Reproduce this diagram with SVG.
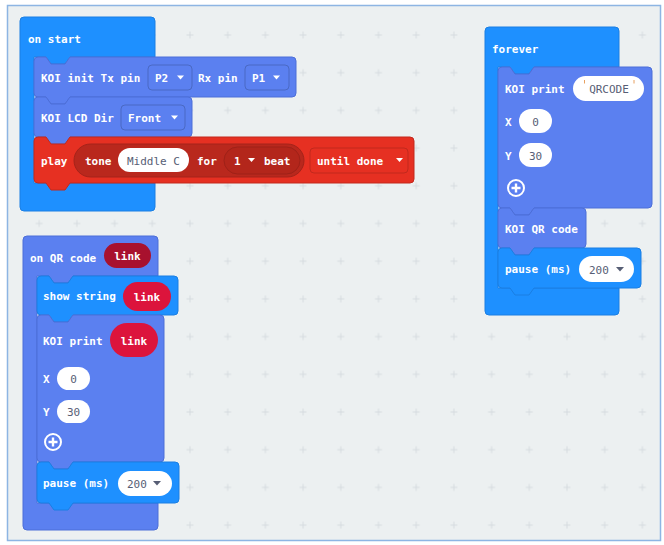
<svg xmlns="http://www.w3.org/2000/svg" width="664" height="545" viewBox="0 0 664 545">
<style>
.t{font-family:"DejaVu Sans Mono","Liberation Mono",monospace;font-size:11px;font-weight:bold;fill:#fff}
.g{font-family:"DejaVu Sans Mono","Liberation Mono",monospace;font-size:11px;fill:#575e75}
.c{text-anchor:middle}
.koi{fill:#5b80f0;stroke:#4c6ed8;stroke-width:1}
.blue{fill:#1e90ff;stroke:#1a7fe3;stroke-width:1}
.red{fill:#e63022;stroke:#c2291d;stroke-width:1}
.pill{fill:#fff}
.tri{fill:#fff}
.dd{stroke:rgba(0,0,0,0.18);stroke-width:1}
</style>
<defs>
<pattern id="grid" x="-17.35" y="16.15" width="37.7" height="37.7" patternUnits="userSpaceOnUse">
<path d="M15.35,18.85 H22.35 M18.85,15.35 V22.35" stroke="#d6dce0" stroke-width="1"/>
</pattern>
<g id="plus">
<circle cx="0" cy="0" r="8" fill="none" stroke="#fff" stroke-width="2"/>
<path d="M-4.5,0 H4.5 M0,-4.5 V4.5" stroke="#fff" stroke-width="2.4"/>
</g>
</defs>
<rect x="0" y="0" width="664" height="545" fill="#fff"/>
<rect x="7.5" y="5.5" width="653" height="535" fill="#ecf0f1" stroke="#8db5e3" stroke-width="1.5"/>
<rect x="8.5" y="6.5" width="651" height="533" fill="url(#grid)"/>
<g id="connectors"></g>

<g id="on-start">
<path class="blue" d="M20,21 a4,4 0 0 1 4,-4 H151 a4,4 0 0 1 4,4 V57 H70 l-5,7 H51 l-5,-7 H34 V183 H155 V207 a4,4 0 0 1 -4,4 H24 a4,4 0 0 1 -4,-4 Z"/>
<text class="t" x="28" y="42.5">on start</text>
</g>
<g id="koi-init">
<path class="koi" d="M34,61 a4,4 0 0 1 4,-4 H46 l5,7 H65 l5,-7 H292 a4,4 0 0 1 4,4 V93 a4,4 0 0 1 -4,4 H70 l-5,7 H51 l-5,-7 H38 a4,4 0 0 1 -4,-4 Z"/>
<text class="t" x="41" y="82">KOI init Tx pin</text>
<rect class="koi dd" x="148" y="65" width="44" height="25" rx="4"/>
<text class="t" x="155" y="82">P2</text>
<polygon class="tri" points="177,75.5 184,75.5 180.5,79.5"/>
<text class="t" x="198" y="82">Rx pin</text>
<rect class="koi dd" x="245" y="65" width="44" height="25" rx="4"/>
<text class="t" x="252" y="82">P1</text>
<polygon class="tri" points="273,75.5 280,75.5 276.5,79.5"/>
</g>
<g id="koi-lcd">
<path class="koi" d="M34,101 a4,4 0 0 1 4,-4 H46 l5,7 H65 l5,-7 H188 a4,4 0 0 1 4,4 V133 a4,4 0 0 1 -4,4 H70 l-5,7 H51 l-5,-7 H38 a4,4 0 0 1 -4,-4 Z"/>
<text class="t" x="41" y="122">KOI LCD Dir</text>
<rect class="koi dd" x="121" y="105" width="64" height="25" rx="4"/>
<text class="t" x="128" y="122">Front</text>
<polygon class="tri" points="171,115.5 178,115.5 174.5,119.5"/>
</g>
<g id="play">
<path class="red" d="M34,141 a4,4 0 0 1 4,-4 H46 l5,7 H65 l5,-7 H410 a4,4 0 0 1 4,4 V179 a4,4 0 0 1 -4,4 H70 l-5,7 H51 l-5,-7 H38 a4,4 0 0 1 -4,-4 Z"/>
<text class="t" x="41" y="164.5">play</text>
<rect x="74" y="144" width="230" height="33" rx="16.5" fill="#b9281d" stroke="#a5231a"/>
<text class="t" x="85" y="164.5">tone</text>
<rect class="pill" x="118" y="148" width="71" height="24" rx="12"/>
<text class="g c" x="153.5" y="164.5">Middle C</text>
<text class="t" x="197" y="164.5">for</text>
<rect x="224" y="147" width="76" height="27" rx="13.5" fill="#b3261b" stroke="#9f2118"/>
<text class="t" x="234" y="164.5">1</text>
<polygon class="tri" points="248,158 255,158 251.5,162"/>
<text class="t" x="264" y="164.5">beat</text>
<rect class="red" x="310" y="148" width="98" height="25" rx="4"/>
<text class="t" x="317" y="164.5">until done</text>
<polygon class="tri" points="396,158 403,158 399.5,162"/>
</g>

<g id="forever">
<path class="blue" d="M485,31 a4,4 0 0 1 4,-4 H615 a4,4 0 0 1 4,4 V67 H534 l-5,7 H515 l-5,-7 H498 V288 H619 V311 a4,4 0 0 1 -4,4 H489 a4,4 0 0 1 -4,-4 Z"/>
<text class="t" x="492" y="52.5">forever</text>
</g>
<g id="koi-print-1">
<path class="koi" d="M498,71 a4,4 0 0 1 4,-4 H510 l5,7 H529 l5,-7 H648 a4,4 0 0 1 4,4 V204 a4,4 0 0 1 -4,4 H534 l-5,7 H515 l-5,-7 H502 a4,4 0 0 1 -4,-4 Z"/>
<text class="t" x="505" y="92.5">KOI print</text>
<rect class="pill" x="573" y="76" width="71" height="25" rx="12.5"/>
<path d="M584.5,80 V83.5 M634,80 V83.5" stroke="#e8a060" stroke-width="1"/>
<text class="g c" x="609" y="93">QRCODE</text>
<text class="t" x="505" y="125.5">X</text>
<rect class="pill" x="519" y="109" width="33" height="24" rx="12"/>
<text class="g c" x="535.5" y="125.5">0</text>
<text class="t" x="505" y="159.5">Y</text>
<rect class="pill" x="519" y="143" width="33" height="24" rx="12"/>
<text class="g c" x="535.5" y="159.5">30</text>
<use href="#plus" x="516" y="188"/>
</g>
<g id="koi-qr">
<path class="koi" d="M498,212 a4,4 0 0 1 4,-4 H510 l5,7 H529 l5,-7 H582 a4,4 0 0 1 4,4 V244 a4,4 0 0 1 -4,4 H534 l-5,7 H515 l-5,-7 H502 a4,4 0 0 1 -4,-4 Z"/>
<text class="t" x="505" y="232.5">KOI QR code</text>
</g>
<g id="pause-1">
<path class="blue" d="M498,252 a4,4 0 0 1 4,-4 H510 l5,7 H529 l5,-7 H637 a4,4 0 0 1 4,4 V284 a4,4 0 0 1 -4,4 H534 l-5,7 H515 l-5,-7 H502 a4,4 0 0 1 -4,-4 Z"/>
<text class="t" x="505" y="272.5">pause (ms)</text>
<rect class="pill" x="579" y="256" width="55" height="26" rx="13"/>
<text class="g" x="589" y="273.5">200</text>
<polygon points="616,267 624,267 620,271.5" fill="#575e75"/>
</g>

<g id="on-qr">
<path class="koi" d="M23,240 a4,4 0 0 1 4,-4 H154 a4,4 0 0 1 4,4 V276 H73 l-5,7 H54 l-5,-7 H37 V503 H158 V526 a4,4 0 0 1 -4,4 H27 a4,4 0 0 1 -4,-4 Z"/>
<text class="t" x="30" y="261.5">on QR code</text>
<rect x="104" y="243" width="47" height="25" rx="12.5" fill="#a8112e"/>
<text class="t c" x="127.5" y="260">link</text>
</g>
<g id="show-string">
<path class="blue" d="M37,280 a4,4 0 0 1 4,-4 H49 l5,7 H68 l5,-7 H174 a4,4 0 0 1 4,4 V311 a4,4 0 0 1 -4,4 H73 l-5,7 H54 l-5,-7 H41 a4,4 0 0 1 -4,-4 Z"/>
<text class="t" x="43" y="300">show string</text>
<rect x="123" y="282" width="48" height="29" rx="14.5" fill="#dc143c"/>
<text class="t c" x="147" y="300.5">link</text>
</g>
<g id="koi-print-2">
<path class="koi" d="M37,319 a4,4 0 0 1 4,-4 H49 l5,7 H68 l5,-7 H160 a4,4 0 0 1 4,4 V458 a4,4 0 0 1 -4,4 H73 l-5,7 H54 l-5,-7 H41 a4,4 0 0 1 -4,-4 Z"/>
<text class="t" x="43" y="344.5">KOI print</text>
<rect x="110" y="323" width="48" height="34" rx="17" fill="#dc143c"/>
<text class="t c" x="134" y="344.5">link</text>
<text class="t" x="43" y="382.5">X</text>
<rect class="pill" x="57" y="367" width="33" height="23" rx="11.5"/>
<text class="g c" x="73.5" y="382.5">0</text>
<text class="t" x="43" y="416">Y</text>
<rect class="pill" x="57" y="400" width="33" height="23" rx="11.5"/>
<text class="g c" x="73.5" y="416">30</text>
<use href="#plus" x="53" y="442"/>
</g>
<g id="pause-2">
<path class="blue" d="M37,466 a4,4 0 0 1 4,-4 H49 l5,7 H68 l5,-7 H175 a4,4 0 0 1 4,4 V499 a4,4 0 0 1 -4,4 H73 l-5,7 H54 l-5,-7 H41 a4,4 0 0 1 -4,-4 Z"/>
<text class="t" x="43" y="486.5">pause (ms)</text>
<rect class="pill" x="118" y="471" width="54" height="25" rx="12.5"/>
<text class="g" x="127" y="488">200</text>
<polygon points="153,481 161,481 157,485.5" fill="#575e75"/>
</g>
</svg>
